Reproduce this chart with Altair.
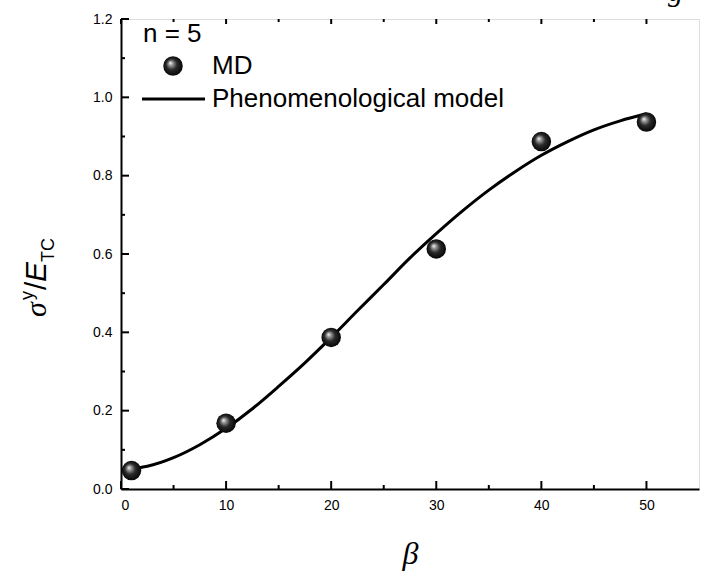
import altair as alt
import pandas as pd

# ---- data ----
beta_md = [1, 10, 20, 30, 40, 50]
sigma_md = [0.047, 0.168, 0.387, 0.613, 0.887, 0.937]

beta_model = [1, 2.5, 5, 7.5, 10, 12.5, 15, 17.5, 20, 22.5, 25, 27.5,
              30, 32.5, 35, 37.5, 40, 42.5, 45, 47.5, 50]
sigma_model = [0.052, 0.058, 0.080, 0.113, 0.155, 0.205, 0.262, 0.322,
               0.387, 0.455, 0.522, 0.590, 0.652, 0.710, 0.763, 0.810,
               0.852, 0.887, 0.917, 0.940, 0.958]

x_major = [0, 10, 20, 30, 40, 50]
x_minor = [5, 15, 25, 35, 45]
y_major = [0.0, 0.2, 0.4, 0.6, 0.8, 1.0, 1.2]
y_minor = [0.1, 0.3, 0.5, 0.7, 0.9, 1.1]

legend_n = ["n = 5"]
legend_md = ["MD"]
legend_model = ["Phenomenological model"]

W, H = 578, 470
xs = alt.Scale(domain=[0, 55], nice=False, zero=False)
ys = alt.Scale(domain=[0, 1.2], nice=False, zero=False)

x_axis = alt.Axis(values=x_major, format="d", title="β",
                  titleFont="Liberation Serif", titleFontStyle="italic",
                  titleFontWeight="normal", titleFontSize=32,
                  titleY=64, titleBaseline="middle", titleColor="black",
                  labelFont="Liberation Sans", labelFontSize=14,
                  labelColor="black", labelPadding=9,
                  ticks=False, tickSize=0, grid=False,
                  domainColor="black", domainWidth=2)
y_axis = alt.Axis(values=y_major, format=".1f", title=None,
                  labelFont="Liberation Sans", labelFontSize=14,
                  labelColor="black", labelPadding=9,
                  ticks=False, tickSize=0, grid=False,
                  domainColor="black", domainWidth=2)

X = alt.X("beta:Q", scale=xs, axis=x_axis)
Y = alt.Y("sigma:Q", scale=ys, axis=y_axis)

md_df = pd.DataFrame({"beta": beta_md, "sigma": sigma_md})
model_df = pd.DataFrame({"beta": beta_model, "sigma": sigma_model})

grad = alt.RadialGradient(
    gradient="radial",
    stops=[alt.GradientStop(color="#ffffff", offset=0),
           alt.GradientStop(color="#a0a0a0", offset=0.18),
           alt.GradientStop(color="#2a2a2a", offset=0.5),
           alt.GradientStop(color="#000000", offset=1)],
    x1=0.36, y1=0.34, r1=0, x2=0.5, y2=0.5, r2=0.55)

line = alt.Chart(model_df).mark_line(
    color="black", strokeWidth=3, interpolate="monotone"
).encode(x=X, y=Y)

points = alt.Chart(md_df).mark_point(
    shape="circle", size=380, fill=grad, fillOpacity=1, strokeOpacity=0
).encode(x=X, y=Y)

def xticks(vals, y0, y1):
    return alt.Chart(pd.DataFrame({"beta": vals})).mark_rule(
        color="black", strokeWidth=2
    ).encode(x=X, y=alt.value(y0), y2=alt.value(y1))

def yticks(vals, x0, x1):
    return alt.Chart(pd.DataFrame({"sigma": vals})).mark_rule(
        color="black", strokeWidth=2
    ).encode(y=Y, x=alt.value(x0), x2=alt.value(x1))

ticks = [
    xticks(x_major, H, H - 8), xticks(x_minor, H, H - 4),
    xticks(x_major, 0, 5), xticks(x_minor, 0, 3),
    yticks(y_major, 0, 8), yticks(y_minor, 0, 4),
]

def txt(label, x, y, size, font="Liberation Sans", style="normal",
        angle=0, align="left", baseline="alphabetic"):
    return alt.Chart(pd.DataFrame({"t": [label]})).mark_text(
        font=font, fontSize=size, fontStyle=style, angle=angle,
        align=align, baseline=baseline, color="black"
    ).encode(text="t:N", x=alt.value(x), y=alt.value(y))

legend = [
    txt(legend_n[0], 22, 23, 26),
    alt.Chart(pd.DataFrame({"t": legend_md})).mark_point(
        shape="circle", size=380, fill=grad, fillOpacity=1, strokeOpacity=0
    ).encode(x=alt.value(52), y=alt.value(47)),
    txt(legend_md[0], 91, 55, 26),
    alt.Chart(pd.DataFrame({"t": legend_model})).mark_rule(
        color="black", strokeWidth=3
    ).encode(x=alt.value(21), x2=alt.value(84), y=alt.value(80)),
    txt(legend_model[0], 91, 88, 26),
]

ytitle = [
    txt("σ", -75, 298, 30, font="Liberation Serif", style="italic", angle=270),
    txt("y", -88, 281, 18, angle=270),
    txt("/", -75, 271, 30, angle=270),
    txt("E", -75, 263, 30, style="italic", angle=270),
    txt("TC", -67, 243, 18, angle=270),
]

corner = [txt("g", 547, -18, 30, font="Liberation Serif", style="italic")]

chart = alt.layer(line, points, *ticks, *legend, *ytitle, *corner).properties(
    width=W, height=H,
    padding={"left": 121, "top": 19, "right": 13, "bottom": 88},
    autosize="none",
).configure_view(stroke="black", strokeWidth=2).configure(background="white")

chart.save("out.html", embed_options={"renderer": "svg", "actions": False})
